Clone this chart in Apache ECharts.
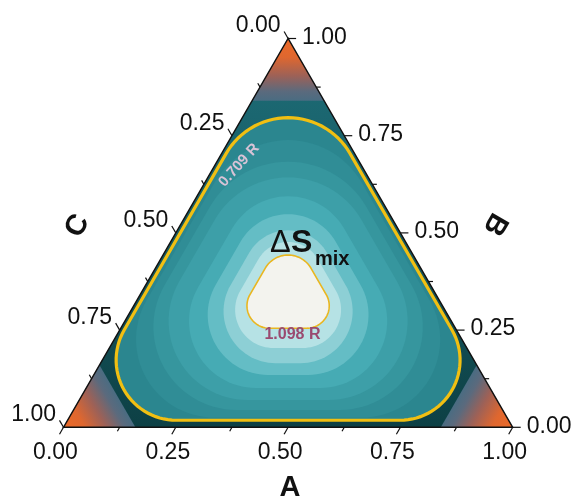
<!DOCTYPE html>
<html>
<head>
<meta charset="utf-8">
<script src="https://cdn.jsdelivr.net/npm/echarts@6/dist/echarts.min.js"></script>
<style>
  html, body { margin: 0; padding: 0; background: #ffffff; }
  #chart { width: 579px; height: 501px; }
</style>
</head>
<body>
<div id="chart"></div>
<script>
// ---- Ternary axes: tick fractions and their labels (same on A, B and C) ----
const majorTicks = [0, 0.25, 0.5, 0.75, 1];
const minorTicks = [0.125, 0.375, 0.625, 0.875];
const tickLabels = ['0.00', '0.25', '0.50', '0.75', '1.00'];

// ---- Level lines of the mixing entropy, outermost first ----
// Every level line is a rounded triangle around the centre of the diagram.
// Distances are measured from the centre, in units of the triangle side:
//   topReach    - up toward the B corner
//   sideReach   - square on to the two upper sides
//   bottomReach - straight down toward the A-C side
//   baseRound   - rounding radius of the two lower corners
const levelValues = ['0.709 R', 'L1', 'L2', 'L3', 'L4', 'L5', 'L6', 'L7', '1.098 R'];
const topReach    = [0.401, 0.351, 0.303, 0.268, 0.226, 0.186, 0.150, 0.124, 0.095];
const sideReach   = [0.280, 0.270, 0.252, 0.228, 0.185, 0.154, 0.125, 0.100, 0.077];
const bottomReach = [0.273, 0.267, 0.250, 0.228, 0.201, 0.172, 0.146, 0.112, 0.068];
const baseRound   = [0.134, 0.174, 0.185, 0.176, 0.149, 0.134, 0.116, 0.085, 0.050];
// fill inside each level line (up to the next one)
const bandColors = ['#2b868f', '#308d96', '#36969e', '#3d9fa8', '#46abb4',
                    '#64bdc5', '#8dcfd5', '#b6e2e5', '#f3f3ee'];
// nearly pure corners: shaded when the dominant fraction exceeds this
const cornerStart = 0.84;

const FONT = "'Liberation Sans', Arial, Helvetica, sans-serif";
const H = Math.sqrt(3) / 2;
const CENTRE = [0.5, H / 3];
const DEG = Math.PI / 180;

// ternary (A, B, C) -> cartesian; A=1 bottom right, B=1 top, C=1 bottom left
function toCart(a, b, c) {
  const s = a + b + c;
  a /= s; b /= s;
  return [a + b / 2, b * H];
}

// outline of level i: straight sides joined by circular corners
function levelLoop(i) {
  const dt = topReach[i], ds = sideReach[i], db = bottomReach[i], rb = baseRound[i];
  const rt = 2 * ds - dt;                       // top corner radius
  const yb = -(db - rb);
  const xb = (ds - rb - 0.5 * yb) / Math.cos(30 * DEG);
  const arcs = [
    [[0, dt - rt], rt, 30, 150],
    [[-xb, yb], rb, 150, 270],
    [[xb, yb], rb, 270, 390]
  ];
  const pts = [];
  arcs.forEach(([c, r, a0, a1]) => {
    const n = 30;
    for (let s = 0; s <= n; s++) {
      const t = (a0 + (a1 - a0) * s / n) * DEG;
      pts.push([CENTRE[0] + c[0] + r * Math.cos(t), CENTRE[1] + c[1] + r * Math.sin(t)]);
    }
  });
  return pts;
}

const cornerStops = [
  { offset: 0, color: '#ec6a28' },
  { offset: 0.3, color: '#df672f' },
  { offset: 0.6, color: '#9d6157' },
  { offset: 0.85, color: '#5b6a7d' },
  { offset: 1, color: '#4a6c82' }
];

function renderTernary(params, api) {
  const P = (a, b, c) => api.coord(toCart(a, b, c));
  const T = P(0, 1, 0), L = P(0, 0, 1), R = P(1, 0, 0);
  const kids = [];

  // outer band (between corners and the 0.709 R line)
  kids.push({
    type: 'polygon', shape: { points: [L, R, T] },
    style: {
      fill: {
        type: 'linear', x: 0, y: T[1], x2: 0, y2: L[1], global: true,
        colorStops: [
          { offset: 0, color: '#1e6d76' }, { offset: 0.2, color: '#1b6670' },
          { offset: 0.5, color: '#165a61' }, { offset: 1, color: '#0d4045' }
        ]
      }
    }
  });

  // corner zones
  const cs = cornerStart, rest = 1 - cornerStart;
  for (let k = 0; k < 3; k++) {
    const v = [0, 0, 0]; v[k] = 1;
    const b1 = [0, 0, 0]; b1[k] = cs; b1[(k + 1) % 3] = rest;
    const b2 = [0, 0, 0]; b2[k] = cs; b2[(k + 2) % 3] = rest;
    const mid = [rest / 2, rest / 2, rest / 2]; mid[k] = cs;
    const pv = P(v[0], v[1], v[2]), pm = P(mid[0], mid[1], mid[2]);
    kids.push({
      type: 'polygon',
      shape: { points: [pv, P(b1[0], b1[1], b1[2]), P(b2[0], b2[1], b2[2])] },
      style: {
        fill: { type: 'linear', x: pv[0], y: pv[1], x2: pm[0], y2: pm[1], global: true, colorStops: cornerStops }
      }
    });
  }

  // filled bands
  const loops = levelValues.map((_, i) => levelLoop(i).map(p => api.coord(p)));
  loops.forEach((pts, i) => {
    kids.push({ type: 'polygon', shape: { points: pts }, style: { fill: bandColors[i] } });
  });
  // highlighted level lines
  kids.push({ type: 'polygon', shape: { points: loops[0] },
              style: { fill: null, stroke: '#f1bf12', lineWidth: 3.2 } });
  kids.push({ type: 'polygon', shape: { points: loops[loops.length - 1] },
              style: { fill: null, stroke: '#e9b620', lineWidth: 1.6 } });

  // frame
  kids.push({ type: 'polygon', shape: { points: [L, R, T] },
              style: { fill: null, stroke: '#111111', lineWidth: 1.4, lineJoin: 'miter' } });

  // ticks and tick labels
  const ticks = majorTicks.map(t => [t, true]).concat(minorTicks.map(t => [t, false]));
  const axes = [
    { at: t => P(t, 0, 1 - t), dir: [-0.5, 0.866], lab: [-8, 25], align: 'center' },   // A, bottom
    { at: t => P(1 - t, t, 0), dir: [1, 0], lab: [14, -1], align: 'left' },           // B, right
    { at: t => P(0, 1 - t, t), dir: [-0.5, -0.866], lab: [-7.5, -12.5], align: 'right' } // C, left
  ];
  axes.forEach(ax => {
    ticks.forEach(([t, major]) => {
      const b = ax.at(t), len = major ? 8 : 4.5;
      kids.push({ type: 'line',
        shape: { x1: b[0], y1: b[1], x2: b[0] + ax.dir[0] * len, y2: b[1] + ax.dir[1] * len },
        style: { stroke: '#111111', lineWidth: 1.2 } });
    });
    majorTicks.forEach((t, j) => {
      const b = ax.at(t);
      kids.push({ type: 'text', x: b[0] + ax.lab[0], y: b[1] + ax.lab[1],
        style: { text: tickLabels[j], fill: '#111111', fontSize: 23, fontFamily: FONT,
                 align: ax.align, verticalAlign: 'middle' } });
    });
  });

  // level labels
  const p709 = P(0.0536, 0.6743, 0.272);
  kids.push({ type: 'text', x: p709[0], y: p709[1], rotation: 48 * DEG,
    style: { text: levelValues[0], fill: '#d8c3d6', fontSize: 15, fontWeight: 'bold', fontFamily: FONT,
             align: 'center', verticalAlign: 'middle' } });
  const p1098 = P(0.3905, 0.2386, 0.371);
  kids.push({ type: 'text', x: p1098[0], y: p1098[1],
    style: { text: levelValues[levelValues.length - 1], fill: '#9a4a70', fontSize: 16, fontWeight: 'bold',
             fontFamily: FONT, align: 'center', verticalAlign: 'middle' } });

  return { type: 'group', children: kids };
}

const chart = echarts.init(document.getElementById('chart'), null, { renderer: 'canvas' });
chart.setOption({
  animation: false,
  backgroundColor: '#ffffff',
  grid: { left: 63.5, top: 38.5, width: 449.2, height: 388.8 },
  xAxis: { type: 'value', min: 0, max: 1, show: false },
  yAxis: { type: 'value', min: 0, max: H, show: false },
  series: [{
    type: 'custom',
    coordinateSystem: 'cartesian2d',
    clip: false,
    silent: true,
    z: 2,
    data: [[0.5, 0.3]],
    renderItem: renderTernary
  }],
  graphic: [
    { type: 'text', z: 100, x: 270, y: 243, style: { text: 'Δ', fill: '#111', fontSize: 31, fontFamily: FONT, align: 'left', verticalAlign: 'middle' } },
    { type: 'text', z: 100, x: 291, y: 243, style: { text: 'S', fill: '#111', fontSize: 32, fontWeight: 'bold', fontFamily: FONT, align: 'left', verticalAlign: 'middle' } },
    { type: 'text', z: 100, x: 315, y: 259.5, style: { text: 'mix', fill: '#111', fontSize: 20, fontWeight: 'bold', fontFamily: FONT, align: 'left', verticalAlign: 'middle' } },
    { type: 'text', z: 100, x: 290, y: 488, style: { text: 'A', fill: '#111', fontSize: 29, fontWeight: 'bold', fontFamily: FONT, align: 'center', verticalAlign: 'middle' } },
    { type: 'text', z: 100, x: 495, y: 224, rotation: -120 * DEG,
      style: { text: 'B', fill: '#111', fontSize: 29, fontWeight: 'bold', fontFamily: FONT, align: 'center', verticalAlign: 'middle' } },
    { type: 'text', z: 100, x: 77.5, y: 226, rotation: 60 * DEG,
      style: { text: 'C', fill: '#111', fontSize: 29, fontWeight: 'bold', fontFamily: FONT, align: 'center', verticalAlign: 'middle' } }
  ]
});
</script>
</body>
</html>
